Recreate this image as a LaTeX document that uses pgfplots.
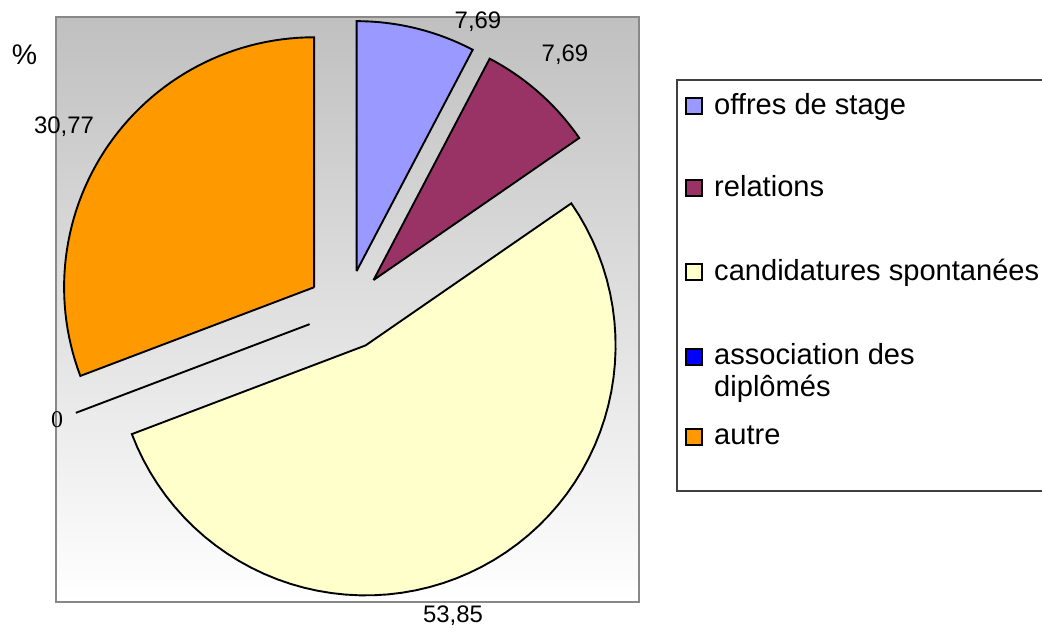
\documentclass[border=0pt]{standalone}
\usepackage{fontspec}
\setmainfont{Liberation Sans}
\newfontfamily\zerofont{Liberation Serif}
\usepackage{pgfplots}
\usepackage{pgfplotstable}
\pgfplotsset{compat=1.18}
\definecolor{cOffres}{HTML}{9999FF}
\definecolor{cRel}{HTML}{993366}
\definecolor{cCand}{HTML}{FFFFCC}
\definecolor{cAssoc}{HTML}{0000FF}
\definecolor{cAutre}{HTML}{FF9900}
\definecolor{cTop}{HTML}{C0C0C0}
\definecolor{cBorder}{HTML}{888888}

% shares in percent, clockwise from 12 o'clock
\pgfplotstableread{
share
7.69
7.69
53.85
0
30.77
}\piedata

\def\cx{347}\def\cy{318}\def\R{250}\def\ex{40}

\newcommand\pieslice[3]{%
  \pgfmathsetmacro\aS{90-3.6*(#1)}%
  \pgfmathsetmacro\aE{90-3.6*((#1)+(#2))}%
  \pgfmathsetmacro\aM{(\aS+\aE)/2}%
  \pgfmathsetmacro\vx{\cx+\ex*cos(\aM)}%
  \pgfmathsetmacro\vy{\cy+\ex*sin(\aM)}%
  \edef\doslice{\noexpand\addplot[fill=#3, draw=black, line width=1.9pt, line join=miter, domain=-1:61, samples=63, forget plot]
   ({(x < -0.5 || x > 60.5) ? \vx : \vx+\R*cos(\aS+(\aE-\aS)*x/60)},
    {(x < -0.5 || x > 60.5) ? \vy : \vy+\R*sin(\aS+(\aE-\aS)*x/60)});}%
  \doslice
}

\pgfplotstablegetelem{0}{share}\of\piedata \let\vA\pgfplotsretval
\pgfplotstablegetelem{1}{share}\of\piedata \let\vB\pgfplotsretval
\pgfplotstablegetelem{2}{share}\of\piedata \let\vC\pgfplotsretval
\pgfplotstablegetelem{3}{share}\of\piedata \let\vD\pgfplotsretval
\pgfplotstablegetelem{4}{share}\of\piedata \let\vE\pgfplotsretval

\begin{document}%
\begin{tikzpicture}
\pgfmathsetmacro\sA{0}
\pgfmathsetmacro\sB{\vA}
\pgfmathsetmacro\sC{\vA+\vB}
\pgfmathsetmacro\sD{\vA+\vB+\vC}
\pgfmathsetmacro\sE{\vA+\vB+\vC+\vD}
\begin{axis}[
  scale only axis, width=1042bp, height=628bp,
  xmin=0, xmax=1042, ymin=0, ymax=628,
  hide axis, clip=false,
]
% plot area background
\fill[top color=cTop, bottom color=white] (axis cs:56,26) rectangle (axis cs:639,610.5);
\draw[cBorder, line width=2bp] (axis cs:56,26) rectangle (axis cs:639,610.5);

\pieslice{\sA}{\vA}{cOffres}
\pieslice{\sB}{\vB}{cRel}
\pieslice{\sC}{\vC}{cCand}
\pieslice{\sD}{\vD}{cAssoc}
\pieslice{\sE}{\vE}{cAutre}

% data labels
\begin{scope}[every node/.style={inner sep=0pt, font=\fontsize{24}{26}\selectfont}]
\node at (axis cs:478,606) {7,69};
\node at (axis cs:565,573) {7,69};
\node at (axis cs:453,12) {53,85};
\node at (axis cs:64,501) {30,77};
\node[font=\zerofont\fontsize{24}{26}\selectfont] at (axis cs:57,208) {0};
\node[font=\fontsize{28.5}{30}\selectfont] at (axis cs:24.5,573) {\%};
\end{scope}

% legend
\draw[black!75, line width=1.2bp] (axis cs:1042,548) -- (axis cs:677,548) -- (axis cs:677,137) -- (axis cs:1042,137);
\begin{scope}[every node/.style={anchor=base west, inner sep=0pt, font=\fontsize{29.2}{31}\selectfont}]
\draw[fill=cOffres, line width=1.4bp] (axis cs:686,514) rectangle (axis cs:702,530);
\node at (axis cs:714,513) {offres de stage};
\draw[fill=cRel, line width=1.4bp] (axis cs:686,432) rectangle (axis cs:702,448);
\node at (axis cs:714,431) {relations};
\draw[fill=cCand, line width=1.4bp] (axis cs:686,348) rectangle (axis cs:702,364);
\node at (axis cs:714,347) {candidatures spontanées};
\draw[fill=cAssoc, line width=1.4bp] (axis cs:686,263) rectangle (axis cs:702,279);
\node at (axis cs:714,263) {association des};
\node at (axis cs:714,231) {diplômés};
\draw[fill=cAutre, line width=1.4bp] (axis cs:686,183) rectangle (axis cs:702,199);
\node at (axis cs:714,183) {autre};
\end{scope}
\end{axis}
\pgfresetboundingbox
\useasboundingbox (0,0) rectangle (1042bp,628bp);
\end{tikzpicture}%
\end{document}
